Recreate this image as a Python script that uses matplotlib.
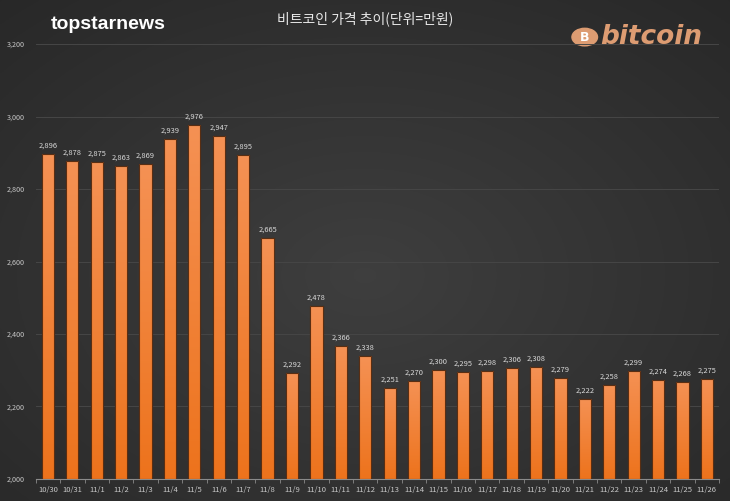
import numpy as np
import matplotlib.pyplot as plt
from matplotlib.patches import Circle

plt.rcParams['font.family'] = ['Noto Sans CJK KR', 'DejaVu Sans']

# data (unit: 10,000 KRW)
dates = ['10/30', '10/31', '11/1', '11/2', '11/3', '11/4', '11/5', '11/6', '11/7', '11/8',
         '11/9', '11/10', '11/11', '11/12', '11/13', '11/14', '11/15', '11/16', '11/17',
         '11/18', '11/19', '11/20', '11/21', '11/22', '11/23', '11/24', '11/25', '11/26']
prices = [2896, 2878, 2875, 2863, 2869, 2939, 2976, 2947, 2895, 2665,
          2292, 2478, 2366, 2338, 2251, 2270, 2300, 2295, 2298,
          2306, 2308, 2279, 2222, 2258, 2299, 2274, 2268, 2275]
y_ticks = [2000, 2200, 2400, 2600, 2800, 3000, 3200]

fig = plt.figure(figsize=(7.3, 5.01), dpi=100)

# background gradient
bg = fig.add_axes([0, 0, 1, 1], zorder=0)
yy, xx = np.mgrid[0:1:300j, 0:1:400j]
r = np.sqrt(((xx - 0.5) / 0.8) ** 2 + ((yy - 0.55) / 0.8) ** 2)
shade = 0.245 - 0.095 * r
bg.imshow(np.dstack([shade, shade, shade]), extent=[0, 1, 0, 1], aspect='auto')
bg.axis('off')

ax = fig.add_axes([0.049, 0.044, 0.936, 0.868], zorder=1)
ax.patch.set_alpha(0)
x = np.arange(len(dates))
bars = ax.bar(x, prices, width=0.5, color='#ef7f2f', edgecolor='#5a2e12', linewidth=0.8, zorder=2)

# vertical gradient inside bars
grad = np.linspace(0, 1, 256).reshape(-1, 1, 1)
top = np.array([0.96, 0.57, 0.33])
bot = np.array([0.93, 0.45, 0.11])
img = bot + (top - bot) * grad
for b in bars:
    im = ax.imshow(img, extent=[b.get_x(), b.get_x() + b.get_width(), 2000, b.get_height()],
                   origin='lower', aspect='auto', zorder=2.5)
    im.set_clip_path(b)
    ax.bar(b.get_x() + b.get_width() / 2, b.get_height() - 2000, bottom=2000, width=b.get_width(),
           fill=False, edgecolor='#5a2e12', linewidth=0.8, zorder=3)

for xi, v in zip(x, prices):
    ax.text(xi, v + 12, f'{v:,}', ha='center', va='bottom', fontsize=5.4, color='#d8d8d8', zorder=4)

ax.set_xlim(-0.5, len(dates) - 0.5)
ax.set_ylim(2000, 3200)
ax.set_yticks(y_ticks)
ax.set_yticklabels([f'{t:,}' for t in y_ticks], fontsize=5.2, color='#c8c8c8')
ax.set_xticks(x)
ax.set_xticklabels(dates, fontsize=5.5, color='#c8c8c8')
ax.set_xticks(np.arange(-0.5, len(dates)), minor=True)
ax.tick_params(axis='x', which='major', length=0, pad=5)
ax.tick_params(axis='x', which='minor', length=3, color='#8a8a8a', direction='out')
ax.tick_params(axis='y', length=0, pad=8)
ax.grid(axis='y', color='#464646', linewidth=0.7, zorder=0)
ax.set_axisbelow(True)
for s in ['top', 'right', 'left']:
    ax.spines[s].set_visible(False)
ax.spines['bottom'].set_color('#8a8a8a')
ax.spines['bottom'].set_linewidth(0.8)

# header texts
fig.text(0.069, 0.951, 'topstarnews', fontsize=14, fontweight='bold', color='white',
         family=['Liberation Sans'], va='center')
fig.text(0.5, 0.962, '비트코인 가격 추이(단위=만원)', fontsize=10, color='#e8e8e8',
         ha='center', va='center')
fig.add_artist(Circle((0.801, 0.926), 0.0175, transform=fig.transFigure, color='#dd9c72'))
fig.text(0.801, 0.926, 'B', fontsize=9, fontweight='bold', color='white', ha='center', va='center',
         family=['DejaVu Sans'])
fig.text(0.822, 0.926, 'bitcoin', fontsize=19, fontweight='bold', style='italic', color='#dd9c72',
         family=['DejaVu Sans'], va='center')

fig.savefig('out.png', dpi=100, facecolor='#2a2a2a')
